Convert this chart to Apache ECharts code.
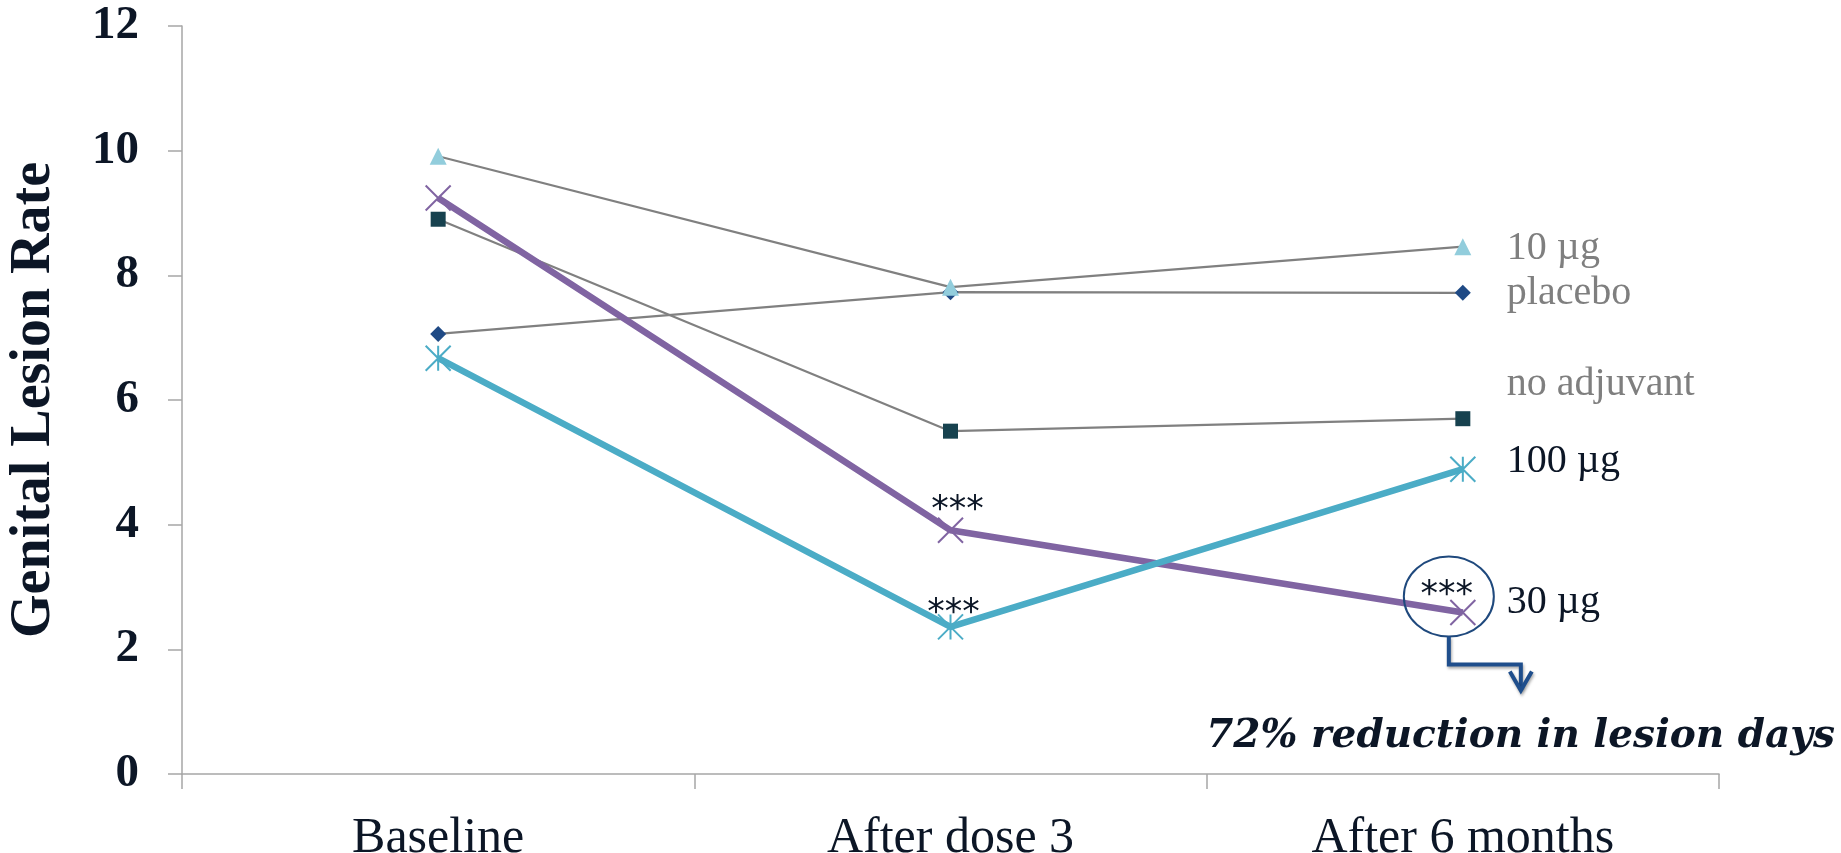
<!DOCTYPE html>
<html>
<head>
<meta charset="utf-8">
<script src="https://cdn.jsdelivr.net/npm/echarts@6/dist/echarts.min.js"></script>
<style>
html,body{margin:0;padding:0;background:#fff;}
#chart{width:1841px;height:853px;}
</style>
</head>
<body>
<div id="chart"></div>
<script>
// ---- data ----
var categories = ['Baseline', 'After dose 3', 'After 6 months'];
var yTicks = [0, 2, 4, 6, 8, 10, 12];
var placebo = [7.06, 7.73, 7.72];
var noAdjuvant = [8.90, 5.50, 5.70];
var tenUg = [9.91, 7.81, 8.46];
var thirtyUg = [9.24, 3.91, 2.59];
var hundredUg = [6.67, 2.36, 4.89];
var seriesNames = ['placebo', 'no adjuvant', '10 µg', '30 µg', '100 µg'];
var significance = [
  {series: '30 µg', index: 1, text: '***'},
  {series: '100 µg', index: 1, text: '***'},
  {series: '30 µg', index: 2, text: '***'}
];
var calloutText = '72% reduction in lesion days';

var dark = '#0c1626';
var gray = '#7f7f7f';
var axisGray = '#a6a6a6';
var serif = '"Liberation Serif", "Times New Roman", serif';

var chart = echarts.init(document.getElementById('chart'), null, {renderer: 'canvas'});

function thin(name, data, symbol, size, color) {
  return {
    name: name, type: 'line', data: data,
    symbol: symbol, symbolSize: size,
    itemStyle: {color: color},
    lineStyle: {color: '#808080', width: 2.2},
    z: 2, animation: false
  };
}
function thick(name, data, symbol, color, z) {
  return {
    name: name, type: 'line', data: data,
    symbol: symbol, symbolSize: 25,
    itemStyle: {color: color, borderColor: color, borderWidth: 2},
    lineStyle: {color: color, width: 6.5},
    z: z, animation: false
  };
}

var option = {
  animation: false,
  backgroundColor: '#ffffff',
  grid: {left: 182, right: 122, top: 26, bottom: 79, containLabel: false, outerBoundsMode: 'none'},
  xAxis: {
    type: 'category',
    data: categories,
    boundaryGap: true,
    axisLine: {show: true, lineStyle: {color: axisGray, width: 1.5}},
    axisTick: {show: true, length: 15, interval: 0, alignWithLabel: false, lineStyle: {color: axisGray, width: 1.5}},
    axisLabel: {fontFamily: serif, fontSize: 50, color: dark, margin: 40},
    splitLine: {show: false}
  },
  yAxis: {
    type: 'value',
    min: yTicks[0], max: yTicks[yTicks.length - 1], interval: yTicks[1] - yTicks[0],
    name: 'Genital Lesion Rate',
    nameLocation: 'middle',
    nameGap: 119,
    nameRotate: 90,
    nameTextStyle: {fontFamily: serif, fontSize: 56, fontWeight: 'bold', color: dark},
    axisLine: {show: true, lineStyle: {color: axisGray, width: 1.5}},
    axisTick: {show: true, length: 14, lineStyle: {color: axisGray, width: 1.5}},
    axisLabel: {fontFamily: serif, fontSize: 47, fontWeight: 'bold', color: dark, margin: 43},
    splitLine: {show: false}
  },
  series: [
    thin(seriesNames[0], placebo, 'diamond', 16, '#1f4a85'),
    thin(seriesNames[1], noAdjuvant, 'rect', 15, '#17424f'),
    thin(seriesNames[2], tenUg, 'triangle', 17, '#92cddc'),
    thick(seriesNames[3], thirtyUg, 'path://M0,0L10,10M10,0L0,10', '#8064a2', 4),
    thick(seriesNames[4], hundredUg, 'path://M0,0L10,10M10,0L0,10M5,0L5,10', '#4bacc6', 5)
  ]
};
chart.setOption(option);

// ---- annotations, positioned from the data through the axes ----
var dataByName = {
  'placebo': placebo, 'no adjuvant': noAdjuvant, '10 µg': tenUg, '30 µg': thirtyUg, '100 µg': hundredUg
};
function px(name, idx) {
  return chart.convertToPixel({gridIndex: 0}, [idx, dataByName[name][idx]]);
}
var endLabelStyle = {
  '10 µg': {dy: 2, color: gray},
  'placebo': {dy: 1, color: gray},
  'no adjuvant': {dy: -34, color: gray},
  '100 µg': {dy: -8, color: dark},
  '30 µg': {dy: -10, color: dark}
};
var sigOffsets = [[7, -19], [3, -13], [-16, -17]];
var graphics = [];
seriesNames.forEach(function (n) {
  var p = px(n, categories.length - 1);
  var s = endLabelStyle[n];
  graphics.push({
    type: 'text', x: p[0] + 44, y: p[1] + s.dy, z: 10,
    style: {text: n, fill: s.color, font: '40px ' + serif, textAlign: 'left', textVerticalAlign: 'middle'}
  });
});
significance.forEach(function (sig, i) {
  var p = px(sig.series, sig.index);
  graphics.push({
    type: 'text', x: p[0] + sigOffsets[i][0], y: p[1] + sigOffsets[i][1], z: 10,
    style: {text: sig.text, fill: dark, font: '35px "DejaVu Sans", sans-serif', textAlign: 'center', textVerticalAlign: 'middle'}
  });
});
var P = px('30 µg', 2);
var arrowColor = '#1f4e8c';
graphics.push({
  type: 'ellipse', z: 9,
  shape: {cx: P[0] - 14, cy: P[1] - 16, rx: 45, ry: 40},
  style: {fill: 'none', stroke: '#1f497d', lineWidth: 2}
});
graphics.push({
  type: 'polyline', z: 9,
  shape: {points: [[P[0] - 14, P[1] + 24], [P[0] - 14, P[1] + 52], [P[0] + 58, P[1] + 52], [P[0] + 58, P[1] + 76]]},
  style: {stroke: arrowColor, lineWidth: 4, fill: 'none', lineJoin: 'miter',
    shadowBlur: 3, shadowColor: 'rgba(0,0,0,0.35)', shadowOffsetX: 1, shadowOffsetY: 2}
});
graphics.push({
  type: 'polyline', z: 9,
  shape: {points: [[P[0] + 47, P[1] + 59], [P[0] + 58, P[1] + 78], [P[0] + 69, P[1] + 59]]},
  style: {stroke: arrowColor, lineWidth: 4, fill: 'none', lineJoin: 'miter',
    shadowBlur: 3, shadowColor: 'rgba(0,0,0,0.35)', shadowOffsetX: 1, shadowOffsetY: 2}
});
graphics.push({
  type: 'text', x: P[0] + 372, y: P[1] + 124, z: 10,
  style: {text: calloutText, fill: dark, font: 'italic bold 39px "DejaVu Serif", serif', textAlign: 'right', textVerticalAlign: 'middle'}
});
chart.setOption({graphic: graphics});
</script>
</body>
</html>
